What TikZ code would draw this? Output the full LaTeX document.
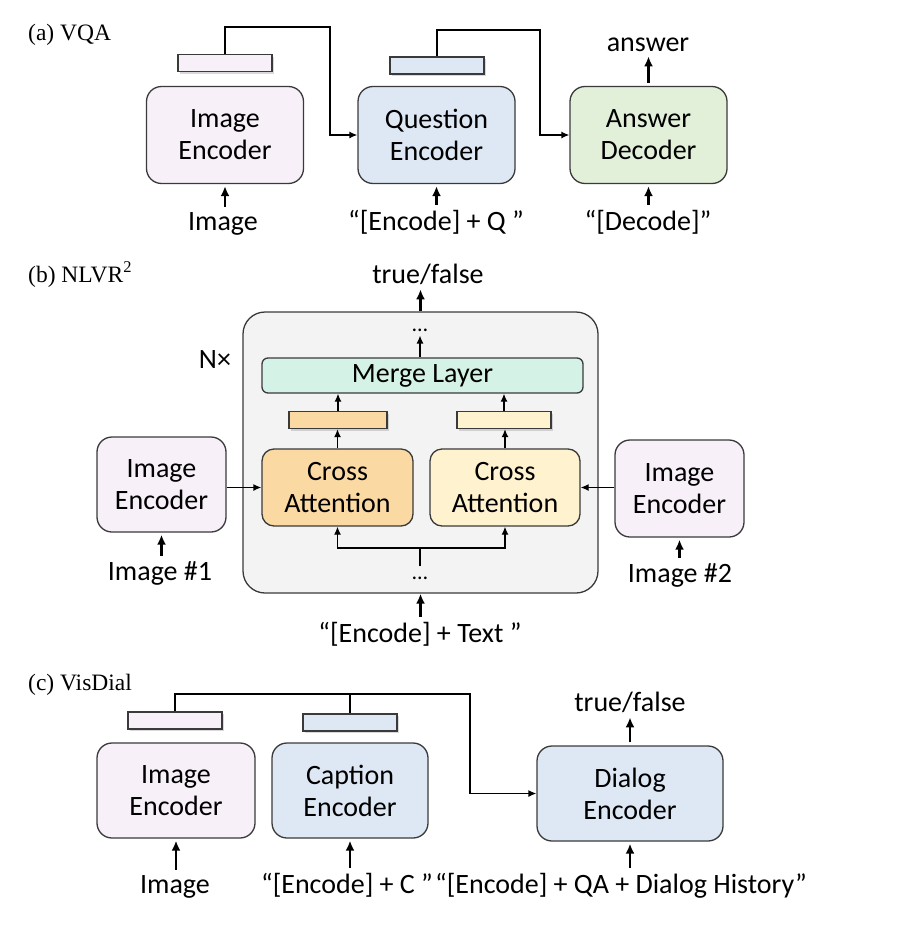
\documentclass[tikz,border=0pt]{standalone}
\usepackage{fontspec}
\setmainfont{Carlito}
\newfontfamily\timesfont{Liberation Serif}
\usetikzlibrary{arrows.meta,shadows}

\definecolor{imgpink}{HTML}{F7F0F8}
\definecolor{encblue}{HTML}{DEE8F5}
\definecolor{decgreen}{HTML}{E2EFD9}
\definecolor{mergemint}{HTML}{D5F2E6}
\definecolor{crossorange}{HTML}{FBD9A3}
\definecolor{crossyellow}{HTML}{FFF2CE}
\definecolor{panelgray}{HTML}{F3F3F3}
\definecolor{edgegray}{HTML}{3A3A3A}

\begin{document}
\begin{tikzpicture}[
    x=1pt, y=-1pt,
    >={Latex[length=8pt,width=7pt]},
    every node/.style={align=center, font=\fontsize{28}{32}\selectfont},
    block/.style={draw=edgegray, line width=1.3pt, rounded corners=15pt,
        minimum width=157pt, minimum height=97pt, inner sep=0pt},
    crossbox/.style={block, rounded corners=12pt, minimum height=77pt},
    vec/.style={draw=edgegray, line width=1.3pt, minimum width=94pt,
        minimum height=17pt, inner sep=0pt,
        drop shadow={shadow xshift=2pt, shadow yshift=-2pt, opacity=0.3}},
    panel/.style={draw=edgegray, line width=1.3pt, fill=panelgray,
        rounded corners=22pt, minimum width=355pt, minimum height=281pt},
    section/.style={font=\timesfont\fontsize{23.5}{27}\selectfont,
        anchor=base west, inner sep=0pt},
    io/.style={anchor=base, inner sep=5pt},
    dots/.style={font=\fontsize{22}{24}\selectfont, inner sep=4pt},
    link/.style={->, draw=black, line width=1.3pt},
    feed/.style={-{Latex[length=10pt,width=9pt]}, line width=2.4pt}]

\useasboundingbox (0,0) rectangle (912,926);

% (a) VQA
\node[section] (lbl_a) at (28,40) {(a) VQA};
\node[block, fill=imgpink] (imgenc_a) at (225,135) {Image\\Encoder};
\node[vec, fill=imgpink] (imgvec_a) at (225,63) {};
\node[block, fill=encblue] (qenc) at (436.5,135) {Question\\Encoder};
\node[vec, fill=encblue] (qvec) at (437,65.5) {};
\node[block, fill=decgreen] (adec) at (648.5,135) {Answer\\Decoder};
\node[io] (answer) at (648,51) {answer};
\node[io] (img_a) at (223,230) {Image};
\node[io] (q_in) at (436,230) {“[Encode] + Q ”};
\node[io] (d_in) at (648,230) {“[Decode]”};

\draw[link] (imgvec_a.north) |- (330,27) |- (qenc.west);
\draw[link] (qvec.north) |- (540,30) |- (adec.west);
\draw[feed, shorten <=3pt] (adec.north) -- (adec.north |- answer.south);
\draw[feed, shorten >=2pt] (imgenc_a.south |- img_a.north) -- (imgenc_a.south);
\draw[feed, shorten >=2pt] (qenc.south |- q_in.north) -- (qenc.south);
\draw[feed, shorten >=2pt] (adec.south |- d_in.north) -- (adec.south);

% (b) NLVR2
\node[section] (lbl_b) at (28,282) {(b) NLVR\textsuperscript{2}};
\node[panel] (box) at (420.5,452.5) {};
\node[io] (tf_b) at (428,283) {true/false};
\node[dots] (dots_top) at (420,330) {…};
\node[block, fill=mergemint, rounded corners=6pt, minimum width=321pt,
    minimum height=35pt] (merge) at (422.5,375.5) {Merge Layer};
\node (ntimes) at (215,360) {N×};
\node[vec, fill=crossorange, minimum width=98pt] (cvec_l) at (338,420) {};
\node[vec, fill=crossyellow] (cvec_r) at (504,420) {};
\node[crossbox, fill=crossorange, minimum width=151pt] (cross_l) at (337.5,487.5) {Cross\\Attention};
\node[crossbox, fill=crossyellow, minimum width=150pt] (cross_r) at (505,487.5) {Cross\\Attention};
\node[dots] (dots_bot) at (420,578) {…};
\coordinate (split) at (420,548);
\node[io] (text_in) at (420,642) {“[Encode] + Text ”};
\node[block, fill=imgpink, minimum width=129pt, minimum height=95pt] (imgenc_l) at (161.5,484.5) {Image\\Encoder};
\node[block, fill=imgpink, minimum width=129pt, minimum height=97pt] (imgenc_r) at (679.5,488.5) {Image\\Encoder};
\node[io] (img1) at (160,580) {Image \#1};
\node[io] (img2) at (680,582) {Image \#2};

\draw[feed] (box.north) -- (box.north |- tf_b.south);
\draw[link] (dots_top.south |- merge.north) -- (dots_top.south);
\draw[link] (cvec_l.north) -- (cvec_l.north |- merge.south);
\draw[link] (cvec_r.north) -- (cvec_r.north |- merge.south);
\draw[link] (cross_l.north) -- (cross_l.north |- cvec_l.south);
\draw[link] (cross_r.north) -- (cross_r.north |- cvec_r.south);
\draw[link] (imgenc_l.east |- cross_l.west) -- (cross_l.west);
\draw[link] (imgenc_r.west |- cross_r.east) -- (cross_r.east);
\draw[line width=1.3pt, shorten <=6pt] (dots_bot.north) -- (split);
\draw[link] (split) -| (cross_l.south);
\draw[link] (split) -| (cross_r.south);
\draw[feed] (box.south |- text_in.north) -- (box.south);
\draw[feed, shorten >=2pt] (imgenc_l.south |- img1.north) -- (imgenc_l.south);
\draw[feed, shorten >=2pt] (imgenc_r.south |- img2.north) -- (imgenc_r.south);

% (c) VisDial
\node[section] (lbl_c) at (28,690) {(c) VisDial};
\node[block, fill=imgpink, minimum width=158pt, minimum height=95pt] (imgenc_c) at (176,790.5) {Image\\Encoder};
\node[vec, fill=imgpink] (imgvec_c) at (175,720.5) {};
\node[block, fill=encblue, minimum width=156pt, minimum height=95pt] (capenc) at (350,790.5) {Caption\\Encoder};
\node[vec, fill=encblue] (capvec) at (350,722.5) {};
\node[block, fill=encblue, minimum width=186pt, minimum height=95pt] (dialenc) at (630,793.5) {Dialog\\Encoder};
\coordinate (bus) at (470,694);
\node[io] (tf_c) at (630,711) {true/false};
\node[io] (img_c) at (175,893) {Image};
\node[io] (cap_in) at (347,893) {“[Encode] + C ”};
\node[io] (dial_in) at (621,893) {“[Encode] + QA + Dialog History”};

\draw[link] (imgvec_c.north) |- (bus) |- (dialenc.west);
\draw[line width=1.3pt] (capvec.north) -- (capvec.north |- bus);
\draw[feed, shorten <=3pt] (dialenc.north) -- (dialenc.north |- tf_c.south);
\draw[feed, shorten >=2pt] (imgenc_c.south |- img_c.north) -- (imgenc_c.south);
\draw[feed, shorten >=2pt] (capenc.south |- cap_in.north) -- (capenc.south);
\draw[feed, shorten >=2pt] (dialenc.south |- dial_in.north) -- (dialenc.south);
\end{tikzpicture}
\end{document}
